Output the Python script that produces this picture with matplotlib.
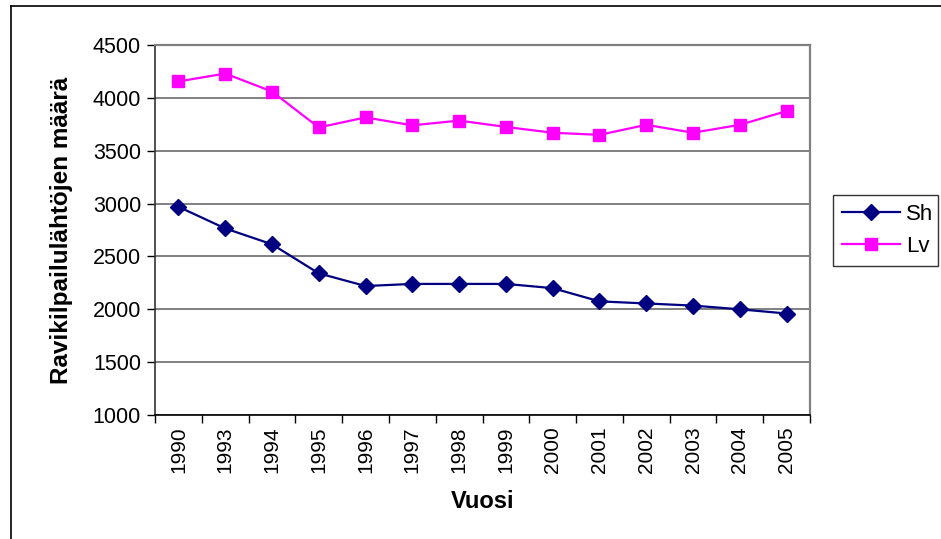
import matplotlib
matplotlib.use("Agg")
import matplotlib.pyplot as plt
from matplotlib.lines import Line2D
import numpy as np

plt.rcParams['font.family'] = ['Liberation Sans', 'DejaVu Sans']

years = ['1990', '1993', '1994', '1995', '1996', '1997', '1998', '1999',
         '2000', '2001', '2002', '2003', '2004', '2005']
sh = [2970, 2765, 2615, 2340, 2220, 2240, 2240, 2240, 2200, 2075, 2055, 2035, 2000, 1960]
lv = [4155, 4230, 4060, 3720, 3815, 3740, 3785, 3725, 3670, 3650, 3745, 3670, 3745, 3875]
y_ticks = [1000, 1500, 2000, 2500, 3000, 3500, 4000, 4500]

W, H = 941, 539
fig = plt.figure(figsize=(W / 100, H / 100), dpi=100)
ax = fig.add_axes([155 / W, 1 - 415 / H, (810 - 155) / W, (415 - 45) / H])

x = np.arange(len(years))
ax.plot(x, sh, color='#000080', lw=1.6, marker='D', markersize=8, label='Sh', zorder=3)
ax.plot(x, lv, color='#FF00FF', lw=1.6, marker='s', markersize=8, label='Lv', zorder=3)

ax.set_xlim(-0.5, len(years) - 0.5)
ax.set_ylim(1000, 4500)
ax.set_yticks(y_ticks)
ax.set_yticklabels([str(v) for v in y_ticks], fontsize=15.5)
ax.yaxis.grid(True, color='#808080', lw=1.4)
ax.set_axisbelow(True)

ax.set_xticks(x)
ax.set_xticklabels(years, rotation=90, fontsize=15)
ax.tick_params(axis='x', which='major', length=0, pad=8)
ax.set_xticks(np.arange(len(years) + 1) - 0.5, minor=True)
ax.tick_params(axis='x', which='minor', length=6, width=1, color='black', direction='out')
ax.tick_params(axis='y', length=6, width=1, color='black', direction='out', pad=4)

for s in ['top', 'right']:
    ax.spines[s].set_color('#808080')
    ax.spines[s].set_linewidth(1.6)
ax.spines['left'].set_color('#333333')
ax.spines['left'].set_linewidth(1.2)
ax.spines['bottom'].set_color('black')
ax.spines['bottom'].set_linewidth(1.2)

ax.set_ylabel('Ravikilpailulähtöjen määrä', fontsize=17.5, fontweight='bold', labelpad=14)
ax.set_xlabel('Vuosi', fontsize=17, fontweight='bold', labelpad=12)

leg = ax.legend(loc='center left', bbox_to_anchor=(833 / W, 1 - 268 / H, 105 / W, 75 / H),
                bbox_transform=fig.transFigure, mode='expand', fontsize=16, frameon=True,
                fancybox=False, edgecolor='black', handlelength=2.6, borderpad=0.4,
                labelspacing=0.5, handletextpad=0.3, borderaxespad=0)
leg.get_frame().set_linewidth(1.0)

# outer chart frame
fig.add_artist(Line2D([11 / W, 11 / W], [0, 1 - 6 / H], transform=fig.transFigure, color='black', lw=1.2))
fig.add_artist(Line2D([11 / W, 1], [1 - 6 / H, 1 - 6 / H], transform=fig.transFigure, color='black', lw=1.2))

fig.savefig('out.png', dpi=100)
